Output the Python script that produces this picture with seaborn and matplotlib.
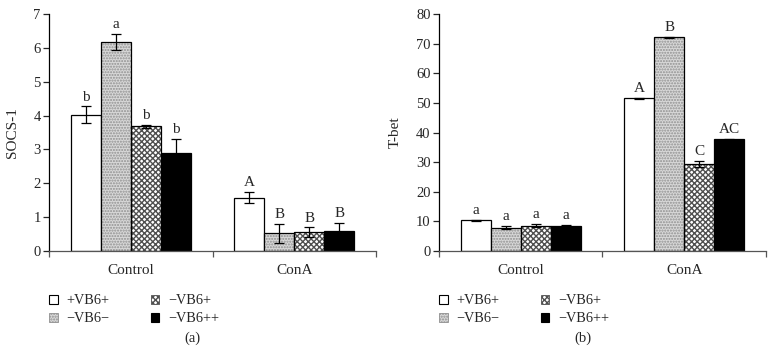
import matplotlib
matplotlib.use("Agg")
import matplotlib.pyplot as plt
import seaborn as sns
import pandas as pd
import numpy as np
from matplotlib.patches import Patch, Rectangle

sns.set_theme(style="white")
plt.rcParams['font.family'] = ['Liberation Serif', 'DejaVu Serif']

categories = ["Control", "ConA"]
groups = ["+VB6+", "\u2212VB6\u2212", "\u2212VB6+", "\u2212VB6++"]

socs_vals = {"+VB6+": [4.02, 1.58], "\u2212VB6\u2212": [6.18, 0.52],
             "\u2212VB6+": [3.68, 0.56], "\u2212VB6++": [2.88, 0.60]}
socs_err = {"+VB6+": [0.25, 0.17], "\u2212VB6\u2212": [0.24, 0.27],
            "\u2212VB6+": [0.04, 0.14], "\u2212VB6++": [0.42, 0.22]}
socs_letters = {"+VB6+": ["b", "A"], "\u2212VB6\u2212": ["a", "B"],
                "\u2212VB6+": ["b", "B"], "\u2212VB6++": ["b", "B"]}

tbet_vals = {"+VB6+": [10.3, 51.5], "\u2212VB6\u2212": [7.9, 72.2],
             "\u2212VB6+": [8.6, 29.3], "\u2212VB6++": [8.4, 37.7]}
tbet_err = {"+VB6+": [0.3, 0.2], "\u2212VB6\u2212": [0.5, 0.2],
            "\u2212VB6+": [0.5, 1.0], "\u2212VB6++": [0.3, 0.2]}
tbet_letters = {"+VB6+": ["a", "A"], "\u2212VB6\u2212": ["a", "B"],
                "\u2212VB6+": ["a", "C"], "\u2212VB6++": ["a", "AC"]}

styles = {
    "+VB6+": dict(face="white", hatch=None, hcolor="black"),
    "\u2212VB6\u2212": dict(face="#d8d8d8", hatch="......", hcolor="#909090"),
    "\u2212VB6+": dict(face="white", hatch="xxxxxx", hcolor="#505050"),
    "\u2212VB6++": dict(face="black", hatch=None, hcolor="black"),
}

def make_df(vals, errs, letters):
    rows = []
    for g in groups:
        for i, c in enumerate(categories):
            rows.append(dict(cat=c, group=g, val=vals[g][i], err=errs[g][i], let=letters[g][i]))
    return pd.DataFrame(rows)

fig = plt.figure(figsize=(7.75, 3.64), dpi=100)
axA = fig.add_axes([49/775, (364-251)/364, 327/775, 237/364])
axB = fig.add_axes([439/775, (364-251)/364, 327/775, 237/364])

def draw(ax, df, ymax, ystep, ylabel, caption):
    sns.barplot(data=df, x="cat", y="val", hue="group", order=categories,
                hue_order=groups, width=0.735, errorbar=None, ax=ax,
                legend=False, palette=["white"] * 4)
    for gi, g in enumerate(groups):
        cont = ax.containers[gi]
        st = styles[g]
        sub = df[df.group == g].set_index("cat").loc[categories]
        for bar, (_, r) in zip(cont, sub.iterrows()):
            bar.set_facecolor(st["face"])
            if st["hatch"]:
                bar.set_hatch(st["hatch"])
                bar.set_edgecolor(st["hcolor"])
                bar.set_linewidth(0)
                ax.add_patch(Rectangle(bar.get_xy(), bar.get_width(), bar.get_height(),
                                       fill=False, edgecolor="black", lw=0.9, zorder=bar.get_zorder() + 0.1))
            else:
                bar.set_edgecolor("black")
                bar.set_linewidth(0.9)
            cx = bar.get_x() + bar.get_width() / 2
            h = bar.get_height()
            ax.errorbar(cx, h, yerr=r["err"], fmt="none", ecolor="black",
                        elinewidth=0.9, capsize=3.5, capthick=0.9, zorder=5)
            ax.annotate(r["let"], (cx, h + r["err"]), xytext=(0, 2),
                        textcoords="offset points", ha="center", va="bottom",
                        fontsize=11)
    ax.set_ylim(0, ymax)
    ax.set_yticks(np.arange(0, ymax + 0.01, ystep))
    ax.set_xlim(-0.5, 1.5)
    ax.set_xticks([-0.5, 0.5, 1.5])
    ax.set_xticklabels([])
    ax.set_xticks([0, 1], minor=True)
    ax.set_xticklabels(categories, minor=True, fontsize=11)
    ax.tick_params(axis="x", which="minor", length=0, pad=9)
    ax.tick_params(axis="x", which="major", direction="out", length=4, width=0.9, color="#555555", bottom=True)
    ax.tick_params(axis="y", direction="out", length=4, width=0.9, left=True, labelsize=10.5, pad=2)
    ax.set_xlabel("")
    ax.set_ylabel(ylabel, fontsize=11, labelpad=10)
    for s in ["top", "right"]:
        ax.spines[s].set_visible(False)
    ax.spines["left"].set_color("black")
    ax.spines["bottom"].set_color("#555555")
    ax.spines["left"].set_linewidth(0.9)
    ax.spines["bottom"].set_linewidth(0.9)
    handles = []
    for g in groups:
        st = styles[g]
        if st["hatch"]:
            handles.append(Patch(facecolor=st["face"], edgecolor=st["hcolor"], hatch=st["hatch"], lw=0.6, label=g))
        else:
            handles.append(Patch(facecolor=st["face"], edgecolor="black", lw=0.8, label=g))
    ax.legend(handles=handles, ncol=2, loc="upper left", bbox_to_anchor=(0.0, -0.183),
              frameon=False, borderpad=0, borderaxespad=0,
              handlelength=0.6, handleheight=0.6, handletextpad=0.6,
              columnspacing=2.9, labelspacing=0.35, fontsize=10.3)
    ax.text(0.44, -0.37, caption, transform=ax.transAxes, ha="center", va="center", fontsize=10.5)

draw(axA, make_df(socs_vals, socs_err, socs_letters), 7, 1, "SOCS-1", "(a)")
draw(axB, make_df(tbet_vals, tbet_err, tbet_letters), 80, 10, "T-bet", "(b)")

fig.savefig("out.png", dpi=100)
